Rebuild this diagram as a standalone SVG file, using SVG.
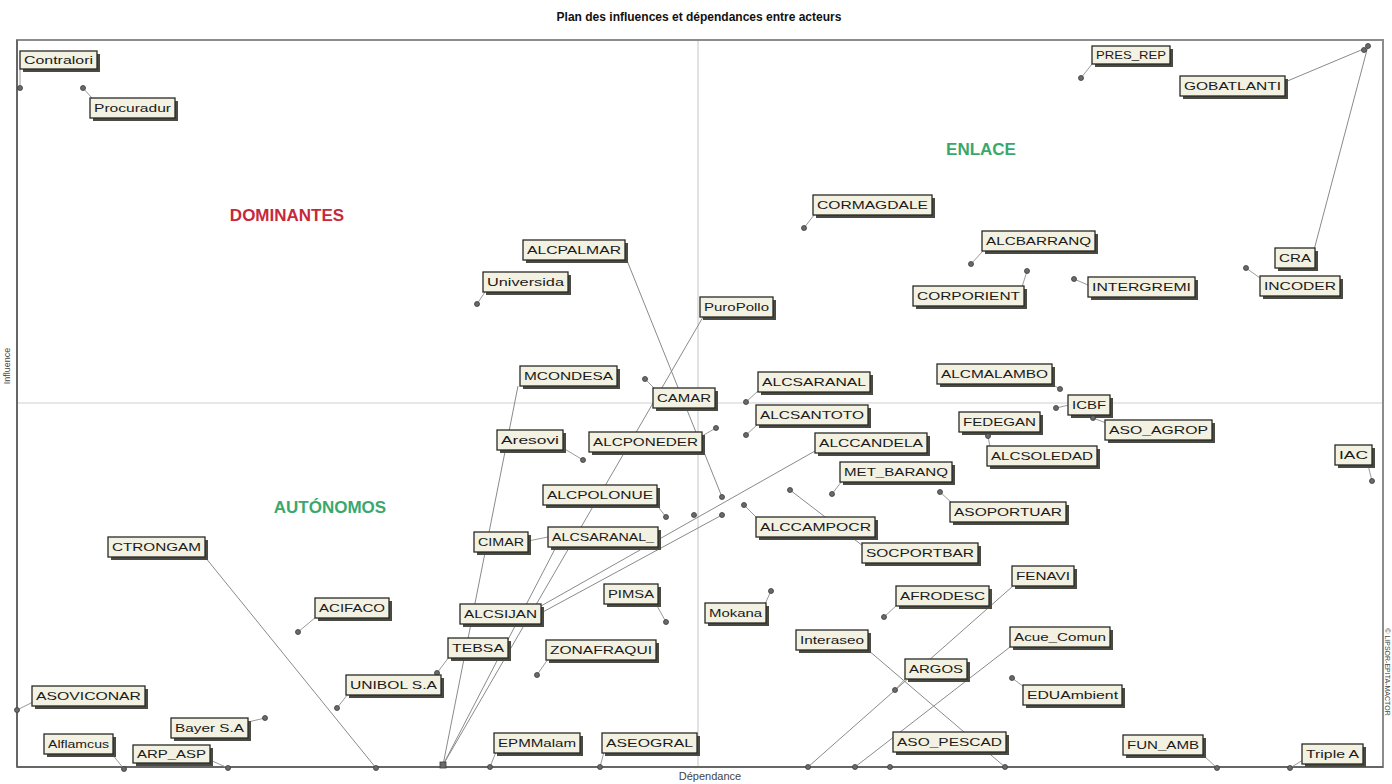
<svg xmlns="http://www.w3.org/2000/svg" width="1392" height="784" viewBox="0 0 1392 784">
<style>
.title{font-family:"Liberation Sans",Arial,sans-serif;font-size:12px;font-weight:bold;fill:#111;text-anchor:middle}
.axis{font-family:"Liberation Sans",Arial,sans-serif;font-size:11px;fill:#444;text-anchor:middle}
.quad{font-family:"Liberation Sans",Arial,sans-serif;font-size:17px;font-weight:bold;text-anchor:middle}
.red{fill:#c8283c}.green{fill:#3aa86c}
.sh{fill:#4a4a44}
.box{fill:#f3f1e2;stroke:#2a2a26;stroke-width:1.3}
.lb{font-family:"Liberation Sans",Arial,sans-serif;font-size:11px;fill:#1a1a1a}
.ln{stroke:#8a8a8a;stroke-width:1;fill:none}
.ld{stroke:#9a9a9a;stroke-width:1;fill:none}
.pt{fill:#6a6a6a;stroke:#3a3a3a;stroke-width:0.8}
</style>
<rect width="1392" height="784" fill="#ffffff"/>
<text class="title" x="699" y="21">Plan des influences et dépendances entre acteurs</text>
<g id="frame">
<line x1="698" y1="41" x2="698" y2="767" stroke="#cfcfcf" stroke-width="1.2"/>
<line x1="17" y1="403" x2="1383" y2="403" stroke="#cfcfcf" stroke-width="1.2"/>
<rect x="17" y="40" width="1366" height="727" fill="none" stroke="#8c8c8c" stroke-width="2"/>
<line x1="17" y1="40" x2="17" y2="767" stroke="#666" stroke-width="2"/>
<line x1="17" y1="767" x2="1383" y2="767" stroke="#666" stroke-width="2"/>
</g>
<text class="axis" x="710" y="780">Dépendance</text>
<text class="axis" style="font-size:9px" transform="translate(10,366) rotate(-90)">Influence</text>
<text class="axis" style="font-size:7px" transform="translate(1385,672) rotate(90)">© LIPSOR-EPITA-MACTOR</text>
<text class="quad red" x="287" y="221">DOMINANTES</text>
<text class="quad green" x="981" y="155">ENLACE</text>
<text class="quad green" x="330" y="513">AUTÓNOMOS</text>

<g id="connectors">
<line class="ln" x1="1285" y1="82" x2="1366" y2="48"/>
<line class="ln" x1="1314" y1="250" x2="1368" y2="46"/>
<line class="ln" x1="626" y1="258" x2="722" y2="497"/>
<line class="ln" x1="703" y1="317" x2="443" y2="765"/>
<line class="ln" x1="518" y1="386" x2="443" y2="765"/>
<line class="ln" x1="556" y1="547" x2="443" y2="765"/>
<line class="ln" x1="815" y1="451" x2="541" y2="606"/>
<line class="ln" x1="722" y1="515" x2="541" y2="613"/>
<line class="ln" x1="205" y1="557" x2="376" y2="768"/>
<line class="ln" x1="868" y1="650" x2="1005" y2="767"/>
<line class="ln" x1="1013" y1="586" x2="808" y2="767"/>
<line class="ln" x1="1010" y1="647" x2="855" y2="767"/>
<line class="ln" x1="790" y1="490" x2="863" y2="546"/>
<line class="ld" x1="20" y1="69" x2="20" y2="88"/>
<line class="ld" x1="83" y1="88" x2="92" y2="98"/>
<line class="ld" x1="1081" y1="78" x2="1092" y2="64"/>
<line class="ld" x1="1246" y1="268" x2="1260" y2="278"/>
<line class="ld" x1="804" y1="228" x2="814" y2="215"/>
<line class="ld" x1="971" y1="264" x2="983" y2="251"/>
<line class="ld" x1="1027" y1="271" x2="1022" y2="287"/>
<line class="ld" x1="1074" y1="279" x2="1088" y2="285"/>
<line class="ld" x1="477" y1="304" x2="485" y2="292"/>
<line class="ld" x1="645" y1="379" x2="655" y2="389"/>
<line class="ld" x1="746" y1="402" x2="758" y2="391"/>
<line class="ld" x1="746" y1="435" x2="758" y2="424"/>
<line class="ld" x1="716" y1="428" x2="702" y2="436"/>
<line class="ld" x1="583" y1="460" x2="563" y2="448"/>
<line class="ld" x1="1060" y1="389" x2="1050" y2="383"/>
<line class="ld" x1="1056" y1="408" x2="1069" y2="405"/>
<line class="ld" x1="1093" y1="418" x2="1106" y2="423"/>
<line class="ld" x1="988" y1="436" x2="990" y2="447"/>
<line class="ld" x1="1372" y1="481" x2="1368" y2="465"/>
<line class="ld" x1="832" y1="494" x2="842" y2="481"/>
<line class="ld" x1="940" y1="492" x2="952" y2="503"/>
<line class="ld" x1="666" y1="517" x2="656" y2="504"/>
<line class="ld" x1="744" y1="505" x2="757" y2="518"/>
<line class="ld" x1="528" y1="541" x2="548" y2="537"/>
<line class="ld" x1="666" y1="622" x2="656" y2="604"/>
<line class="ld" x1="771" y1="591" x2="765" y2="604"/>
<line class="ld" x1="437" y1="673" x2="449" y2="657"/>
<line class="ld" x1="537" y1="675" x2="548" y2="659"/>
<line class="ld" x1="337" y1="708" x2="348" y2="694"/>
<line class="ld" x1="298" y1="632" x2="316" y2="617"/>
<line class="ld" x1="884" y1="617" x2="897" y2="605"/>
<line class="ld" x1="895" y1="690" x2="906" y2="678"/>
<line class="ld" x1="1012" y1="678" x2="1024" y2="687"/>
<line class="ld" x1="1217" y1="768" x2="1203" y2="755"/>
<line class="ld" x1="1290" y1="768" x2="1303" y2="760"/>
<line class="ld" x1="490" y1="767" x2="496" y2="752"/>
<line class="ld" x1="600" y1="767" x2="604" y2="752"/>
<line class="ld" x1="17" y1="710" x2="33" y2="702"/>
<line class="ld" x1="265" y1="718" x2="248" y2="722"/>
<line class="ld" x1="124" y1="769" x2="112" y2="754"/>
<line class="ld" x1="228" y1="768" x2="210" y2="760"/>
</g>

<g id="n-contralori"><rect class="sh" x="23" y="54" width="77" height="18"/><rect class="box" x="20" y="51" width="77" height="18"/><text class="lb" x="24" y="64" textLength="69" lengthAdjust="spacingAndGlyphs">Contralori</text><circle class="pt" cx="20" cy="88" r="2.5"/></g>
<g id="n-procuradur"><rect class="sh" x="93" y="101" width="85" height="20"/><rect class="box" x="90" y="98" width="85" height="20"/><text class="lb" x="94" y="112" textLength="77" lengthAdjust="spacingAndGlyphs">Procuradur</text><circle class="pt" cx="83" cy="88" r="2.5"/></g>
<g id="n-pres_rep"><rect class="sh" x="1095" y="49" width="78" height="18"/><rect class="box" x="1092" y="46" width="78" height="18"/><text class="lb" x="1096" y="59" textLength="70" lengthAdjust="spacingAndGlyphs">PRES_REP</text><circle class="pt" cx="1081" cy="78" r="2.5"/></g>
<g id="n-gobatlanti"><rect class="sh" x="1183" y="79" width="105" height="20"/><rect class="box" x="1180" y="76" width="105" height="20"/><text class="lb" x="1184" y="90" textLength="97" lengthAdjust="spacingAndGlyphs">GOBATLANTI</text><circle class="pt" cx="1364" cy="50" r="2.5"/></g>
<g id="n-cra"><rect class="sh" x="1278" y="251" width="40" height="20"/><rect class="box" x="1275" y="248" width="40" height="20"/><text class="lb" x="1279" y="262" textLength="32" lengthAdjust="spacingAndGlyphs">CRA</text><circle class="pt" cx="1368" cy="46" r="2.5"/></g>
<g id="n-incoder"><rect class="sh" x="1263" y="279" width="80" height="20"/><rect class="box" x="1260" y="276" width="80" height="20"/><text class="lb" x="1264" y="290" textLength="72" lengthAdjust="spacingAndGlyphs">INCODER</text><circle class="pt" cx="1246" cy="268" r="2.5"/></g>
<g id="n-cormagdale"><rect class="sh" x="816" y="198" width="119" height="20"/><rect class="box" x="813" y="195" width="119" height="20"/><text class="lb" x="817" y="209" textLength="111" lengthAdjust="spacingAndGlyphs">CORMAGDALE</text><circle class="pt" cx="804" cy="228" r="2.5"/></g>
<g id="n-alcbarranq"><rect class="sh" x="985" y="234" width="113" height="20"/><rect class="box" x="982" y="231" width="113" height="20"/><text class="lb" x="986" y="245" textLength="105" lengthAdjust="spacingAndGlyphs">ALCBARRANQ</text><circle class="pt" cx="971" cy="264" r="2.5"/></g>
<g id="n-corporient"><rect class="sh" x="916" y="289" width="111" height="20"/><rect class="box" x="913" y="286" width="111" height="20"/><text class="lb" x="917" y="300" textLength="103" lengthAdjust="spacingAndGlyphs">CORPORIENT</text><circle class="pt" cx="1027" cy="271" r="2.5"/></g>
<g id="n-intergremi"><rect class="sh" x="1091" y="280" width="107" height="20"/><rect class="box" x="1088" y="277" width="107" height="20"/><text class="lb" x="1092" y="291" textLength="99" lengthAdjust="spacingAndGlyphs">INTERGREMI</text><circle class="pt" cx="1074" cy="279" r="2.5"/></g>
<g id="n-alcpalmar"><rect class="sh" x="526" y="243" width="102" height="20"/><rect class="box" x="523" y="240" width="102" height="20"/><text class="lb" x="527" y="254" textLength="94" lengthAdjust="spacingAndGlyphs">ALCPALMAR</text><circle class="pt" cx="722" cy="497" r="2.5"/></g>
<g id="n-universida"><rect class="sh" x="486" y="275" width="85" height="20"/><rect class="box" x="483" y="272" width="85" height="20"/><text class="lb" x="487" y="286" textLength="77" lengthAdjust="spacingAndGlyphs">Universida</text><circle class="pt" cx="477" cy="304" r="2.5"/></g>
<g id="n-puropollo"><rect class="sh" x="703" y="300" width="73" height="20"/><rect class="box" x="700" y="297" width="73" height="20"/><text class="lb" x="704" y="311" textLength="65" lengthAdjust="spacingAndGlyphs">PuroPollo</text><rect class="pt" x="440" y="762" width="6" height="6" fill="none"/></g>
<g id="n-mcondesa"><rect class="sh" x="523" y="369" width="97" height="20"/><rect class="box" x="520" y="366" width="97" height="20"/><text class="lb" x="524" y="380" textLength="89" lengthAdjust="spacingAndGlyphs">MCONDESA</text></g>
<g id="n-camar"><rect class="sh" x="656" y="391" width="62" height="20"/><rect class="box" x="653" y="388" width="62" height="20"/><text class="lb" x="657" y="402" textLength="54" lengthAdjust="spacingAndGlyphs">CAMAR</text><circle class="pt" cx="645" cy="379" r="2.5"/></g>
<g id="n-alcsaranal"><rect class="sh" x="761" y="375" width="112" height="20"/><rect class="box" x="758" y="372" width="112" height="20"/><text class="lb" x="762" y="386" textLength="104" lengthAdjust="spacingAndGlyphs">ALCSARANAL</text><circle class="pt" cx="746" cy="402" r="2.5"/></g>
<g id="n-alcsantoto"><rect class="sh" x="759" y="408" width="112" height="20"/><rect class="box" x="756" y="405" width="112" height="20"/><text class="lb" x="760" y="419" textLength="104" lengthAdjust="spacingAndGlyphs">ALCSANTOTO</text><circle class="pt" cx="746" cy="435" r="2.5"/></g>
<g id="n-aresovi"><rect class="sh" x="500" y="433" width="66" height="20"/><rect class="box" x="497" y="430" width="66" height="20"/><text class="lb" x="501" y="444" textLength="58" lengthAdjust="spacingAndGlyphs">Aresovi</text><circle class="pt" cx="583" cy="460" r="2.5"/></g>
<g id="n-alcponeder"><rect class="sh" x="592" y="435" width="113" height="20"/><rect class="box" x="589" y="432" width="113" height="20"/><text class="lb" x="593" y="446" textLength="105" lengthAdjust="spacingAndGlyphs">ALCPONEDER</text><circle class="pt" cx="716" cy="428" r="2.5"/></g>
<g id="n-alccandela"><rect class="sh" x="818" y="436" width="112" height="20"/><rect class="box" x="815" y="433" width="112" height="20"/><text class="lb" x="819" y="447" textLength="104" lengthAdjust="spacingAndGlyphs">ALCCANDELA</text><circle class="pt" cx="694" cy="515" r="2.5"/></g>
<g id="n-alcmalambo"><rect class="sh" x="940" y="367" width="115" height="20"/><rect class="box" x="937" y="364" width="115" height="20"/><text class="lb" x="941" y="378" textLength="107" lengthAdjust="spacingAndGlyphs">ALCMALAMBO</text><circle class="pt" cx="1060" cy="389" r="2.5"/></g>
<g id="n-icbf"><rect class="sh" x="1071" y="398" width="42" height="20"/><rect class="box" x="1068" y="395" width="42" height="20"/><text class="lb" x="1072" y="409" textLength="34" lengthAdjust="spacingAndGlyphs">ICBF</text><circle class="pt" cx="1056" cy="408" r="2.5"/></g>
<g id="n-aso_agrop"><rect class="sh" x="1108" y="423" width="107" height="20"/><rect class="box" x="1105" y="420" width="107" height="20"/><text class="lb" x="1109" y="434" textLength="99" lengthAdjust="spacingAndGlyphs">ASO_AGROP</text><circle class="pt" cx="1093" cy="418" r="2.5"/></g>
<g id="n-fedegan"><rect class="sh" x="962" y="415" width="81" height="20"/><rect class="box" x="959" y="412" width="81" height="20"/><text class="lb" x="963" y="426" textLength="73" lengthAdjust="spacingAndGlyphs">FEDEGAN</text></g>
<g id="n-alcsoledad"><rect class="sh" x="990" y="449" width="110" height="20"/><rect class="box" x="987" y="446" width="110" height="20"/><text class="lb" x="991" y="460" textLength="102" lengthAdjust="spacingAndGlyphs">ALCSOLEDAD</text><circle class="pt" cx="988" cy="436" r="2.5"/></g>
<g id="n-iac"><rect class="sh" x="1338" y="448" width="37" height="20"/><rect class="box" x="1335" y="445" width="37" height="20"/><text class="lb" x="1339" y="459" textLength="29" lengthAdjust="spacingAndGlyphs">IAC</text><circle class="pt" cx="1372" cy="481" r="2.5"/></g>
<g id="n-met_baranq"><rect class="sh" x="843" y="465" width="112" height="20"/><rect class="box" x="840" y="462" width="112" height="20"/><text class="lb" x="844" y="476" textLength="104" lengthAdjust="spacingAndGlyphs">MET_BARANQ</text><circle class="pt" cx="832" cy="494" r="2.5"/></g>
<g id="n-asoportuar"><rect class="sh" x="953" y="505" width="116" height="20"/><rect class="box" x="950" y="502" width="116" height="20"/><text class="lb" x="954" y="516" textLength="108" lengthAdjust="spacingAndGlyphs">ASOPORTUAR</text><circle class="pt" cx="940" cy="492" r="2.5"/></g>
<g id="n-alcpolonue"><rect class="sh" x="546" y="488" width="114" height="20"/><rect class="box" x="543" y="485" width="114" height="20"/><text class="lb" x="547" y="499" textLength="106" lengthAdjust="spacingAndGlyphs">ALCPOLONUE</text><circle class="pt" cx="666" cy="517" r="2.5"/></g>
<g id="n-alccampocr"><rect class="sh" x="759" y="520" width="119" height="20"/><rect class="box" x="756" y="517" width="119" height="20"/><text class="lb" x="760" y="531" textLength="111" lengthAdjust="spacingAndGlyphs">ALCCAMPOCR</text><circle class="pt" cx="744" cy="505" r="2.5"/></g>
<g id="n-socportbar"><rect class="sh" x="865" y="546" width="116" height="20"/><rect class="box" x="862" y="543" width="116" height="20"/><text class="lb" x="866" y="557" textLength="108" lengthAdjust="spacingAndGlyphs">SOCPORTBAR</text><circle class="pt" cx="790" cy="490" r="2.5"/></g>
<g id="n-cimar"><rect class="sh" x="477" y="535" width="54" height="20"/><rect class="box" x="474" y="532" width="54" height="20"/><text class="lb" x="478" y="546" textLength="46" lengthAdjust="spacingAndGlyphs">CIMAR</text><circle class="pt" cx="722" cy="515" r="2.5"/></g>
<g id="n-alcsaranal2"><rect class="sh" x="551" y="530" width="110" height="20"/><rect class="box" x="548" y="527" width="110" height="20"/><text class="lb" x="552" y="541" textLength="102" lengthAdjust="spacingAndGlyphs">ALCSARANAL_</text></g>
<g id="n-pimsa"><rect class="sh" x="607" y="587" width="54" height="20"/><rect class="box" x="604" y="584" width="54" height="20"/><text class="lb" x="608" y="598" textLength="46" lengthAdjust="spacingAndGlyphs">PIMSA</text><circle class="pt" cx="666" cy="622" r="2.5"/></g>
<g id="n-mokana"><rect class="sh" x="708" y="606" width="61" height="20"/><rect class="box" x="705" y="603" width="61" height="20"/><text class="lb" x="709" y="617" textLength="53" lengthAdjust="spacingAndGlyphs">Mokana</text><circle class="pt" cx="771" cy="591" r="2.5"/></g>
<g id="n-alcsijan"><rect class="sh" x="463" y="607" width="81" height="20"/><rect class="box" x="460" y="604" width="81" height="20"/><text class="lb" x="464" y="618" textLength="73" lengthAdjust="spacingAndGlyphs">ALCSIJAN</text></g>
<g id="n-tebsa"><rect class="sh" x="451" y="641" width="60" height="20"/><rect class="box" x="448" y="638" width="60" height="20"/><text class="lb" x="452" y="652" textLength="52" lengthAdjust="spacingAndGlyphs">TEBSA</text><circle class="pt" cx="437" cy="673" r="2.5"/></g>
<g id="n-zonafraqui"><rect class="sh" x="549" y="643" width="110" height="20"/><rect class="box" x="546" y="640" width="110" height="20"/><text class="lb" x="550" y="654" textLength="102" lengthAdjust="spacingAndGlyphs">ZONAFRAQUI</text><circle class="pt" cx="537" cy="675" r="2.5"/></g>
<g id="n-unibol"><rect class="sh" x="349" y="678" width="95" height="20"/><rect class="box" x="346" y="675" width="95" height="20"/><text class="lb" x="350" y="689" textLength="87" lengthAdjust="spacingAndGlyphs">UNIBOL S.A</text><circle class="pt" cx="337" cy="708" r="2.5"/></g>
<g id="n-acifaco"><rect class="sh" x="318" y="601" width="74" height="20"/><rect class="box" x="315" y="598" width="74" height="20"/><text class="lb" x="319" y="612" textLength="66" lengthAdjust="spacingAndGlyphs">ACIFACO</text><circle class="pt" cx="298" cy="632" r="2.5"/></g>
<g id="n-ctrongam"><rect class="sh" x="111" y="540" width="97" height="20"/><rect class="box" x="108" y="537" width="97" height="20"/><text class="lb" x="112" y="551" textLength="89" lengthAdjust="spacingAndGlyphs">CTRONGAM</text><circle class="pt" cx="376" cy="768" r="2.5"/></g>
<g id="n-afrodesc"><rect class="sh" x="899" y="589" width="93" height="20"/><rect class="box" x="896" y="586" width="93" height="20"/><text class="lb" x="900" y="600" textLength="85" lengthAdjust="spacingAndGlyphs">AFRODESC</text><circle class="pt" cx="884" cy="617" r="2.5"/></g>
<g id="n-interaseo"><rect class="sh" x="799" y="633" width="72" height="20"/><rect class="box" x="796" y="630" width="72" height="20"/><text class="lb" x="800" y="644" textLength="64" lengthAdjust="spacingAndGlyphs">Interaseo</text><circle class="pt" cx="1005" cy="767" r="2.5"/></g>
<g id="n-argos"><rect class="sh" x="908" y="662" width="62" height="20"/><rect class="box" x="905" y="659" width="62" height="20"/><text class="lb" x="909" y="673" textLength="54" lengthAdjust="spacingAndGlyphs">ARGOS</text><circle class="pt" cx="895" cy="690" r="2.5"/></g>
<g id="n-fenavi"><rect class="sh" x="1015" y="569" width="62" height="20"/><rect class="box" x="1012" y="566" width="62" height="20"/><text class="lb" x="1016" y="580" textLength="54" lengthAdjust="spacingAndGlyphs">FENAVI</text><circle class="pt" cx="808" cy="767" r="2.5"/></g>
<g id="n-acue_comun"><rect class="sh" x="1013" y="630" width="100" height="20"/><rect class="box" x="1010" y="627" width="100" height="20"/><text class="lb" x="1014" y="641" textLength="92" lengthAdjust="spacingAndGlyphs">Acue_Comun</text><circle class="pt" cx="855" cy="767" r="2.5"/></g>
<g id="n-eduambient"><rect class="sh" x="1026" y="688" width="99" height="20"/><rect class="box" x="1023" y="685" width="99" height="20"/><text class="lb" x="1027" y="699" textLength="91" lengthAdjust="spacingAndGlyphs">EDUAmbient</text><circle class="pt" cx="1012" cy="678" r="2.5"/></g>
<g id="n-aso_pescad"><rect class="sh" x="896" y="735" width="113" height="20"/><rect class="box" x="893" y="732" width="113" height="20"/><text class="lb" x="897" y="746" textLength="105" lengthAdjust="spacingAndGlyphs">ASO_PESCAD</text><circle class="pt" cx="890" cy="767" r="2.5"/></g>
<g id="n-fun_amb"><rect class="sh" x="1126" y="738" width="80" height="20"/><rect class="box" x="1123" y="735" width="80" height="20"/><text class="lb" x="1127" y="749" textLength="72" lengthAdjust="spacingAndGlyphs">FUN_AMB</text><circle class="pt" cx="1217" cy="768" r="2.5"/></g>
<g id="n-triple_a"><rect class="sh" x="1305" y="747" width="61" height="20"/><rect class="box" x="1302" y="744" width="61" height="20"/><text class="lb" x="1306" y="758" textLength="53" lengthAdjust="spacingAndGlyphs">Triple A</text><circle class="pt" cx="1290" cy="768" r="2.5"/></g>
<g id="n-epmmalam"><rect class="sh" x="497" y="736" width="86" height="20"/><rect class="box" x="494" y="733" width="86" height="20"/><text class="lb" x="498" y="747" textLength="78" lengthAdjust="spacingAndGlyphs">EPMMalam</text><circle class="pt" cx="490" cy="767" r="2.5"/></g>
<g id="n-aseogral"><rect class="sh" x="605" y="736" width="95" height="20"/><rect class="box" x="602" y="733" width="95" height="20"/><text class="lb" x="606" y="747" textLength="87" lengthAdjust="spacingAndGlyphs">ASEOGRAL</text><circle class="pt" cx="600" cy="767" r="2.5"/></g>
<g id="n-asoviconar"><rect class="sh" x="35" y="689" width="113" height="20"/><rect class="box" x="32" y="686" width="113" height="20"/><text class="lb" x="36" y="700" textLength="105" lengthAdjust="spacingAndGlyphs">ASOVICONAR</text><circle class="pt" cx="17" cy="710" r="2.5"/></g>
<g id="n-bayer"><rect class="sh" x="174" y="721" width="77" height="20"/><rect class="box" x="171" y="718" width="77" height="20"/><text class="lb" x="175" y="732" textLength="69" lengthAdjust="spacingAndGlyphs">Bayer S.A</text><circle class="pt" cx="265" cy="718" r="2.5"/></g>
<g id="n-alflamcus"><rect class="sh" x="47" y="737" width="69" height="20"/><rect class="box" x="44" y="734" width="69" height="20"/><text class="lb" x="48" y="748" textLength="61" lengthAdjust="spacingAndGlyphs">Alflamcus</text><circle class="pt" cx="124" cy="769" r="2.5"/></g>
<g id="n-arp_asp"><rect class="sh" x="136" y="748" width="77" height="18"/><rect class="box" x="133" y="745" width="77" height="18"/><text class="lb" x="137" y="758" textLength="69" lengthAdjust="spacingAndGlyphs">ARP_ASP</text><circle class="pt" cx="228" cy="768" r="2.5"/></g>
</svg>
